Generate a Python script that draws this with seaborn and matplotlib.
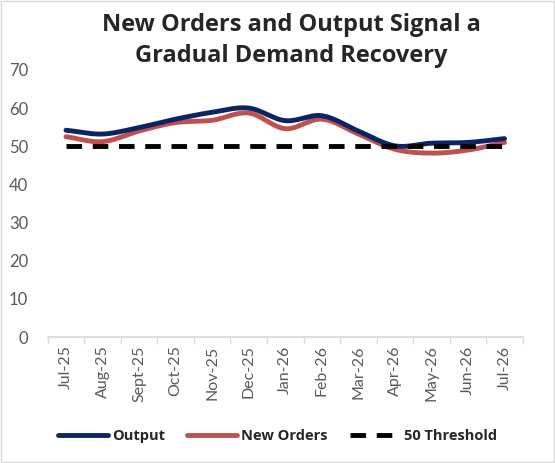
import numpy as np
import pandas as pd
import matplotlib
matplotlib.use("Agg")
import matplotlib.pyplot as plt
import seaborn as sns

months = ["Jul-25", "Aug-25", "Sept-25", "Oct-25", "Nov-25", "Dec-25", "Jan-26",
          "Feb-26", "Mar-26", "Apr-26", "May-26", "Jun-26", "Jul-26"]
output = [54.2, 53.2, 54.9, 57.1, 58.9, 60.0, 56.7, 58.0, 54.0, 50.1, 50.8, 51.0, 52.0]
new_orders = [52.5, 51.2, 54.0, 56.2, 56.8, 58.7, 54.6, 57.1, 53.2, 49.2, 48.2, 49.0, 51.0]
threshold = [50] * len(months)

sns.set_theme(style="white")
plt.rcParams['font.family'] = ['Lato', 'DejaVu Sans']


def smooth(y, n=20):
    # Catmull-Rom spline, like Excel's smoothed line
    y = np.asarray(y, dtype=float)
    p = np.concatenate([[2 * y[0] - y[1]], y, [2 * y[-1] - y[-2]]])
    xs, ys = [], []
    for i in range(len(y) - 1):
        t = np.linspace(0, 1, n, endpoint=False)
        p0, p1, p2, p3 = p[i], p[i + 1], p[i + 2], p[i + 3]
        v = 0.5 * ((2 * p1) + (-p0 + p2) * t + (2 * p0 - 5 * p1 + 4 * p2 - p3) * t ** 2
                   + (-p0 + 3 * p1 - 3 * p2 + p3) * t ** 3)
        xs.append(i + t)
        ys.append(v)
    xs.append([len(y) - 1])
    ys.append([y[-1]])
    return np.concatenate(xs), np.concatenate(ys)


fig = plt.figure(figsize=(5.55, 4.63), dpi=100)
ax = fig.add_axes([0.086, 0.272, 0.856, 0.577])

xo, yo = smooth(output)
xn, yn = smooth(new_orders)
sns.lineplot(x=xn, y=yn, ax=ax, color="#C0504D", lw=3.5, label="New Orders", zorder=2)
sns.lineplot(x=xo, y=yo, ax=ax, color="#0B2562", lw=3.5, label="Output", zorder=3)
sns.lineplot(x=np.arange(len(months)), y=threshold, ax=ax, color="black", lw=3.5,
             linestyle=(0, (3.2, 2.2)), label="50 Threshold", zorder=4)

ax.set_xlim(-0.5, len(months) - 0.5)
ax.set_ylim(0, 70)
ax.set_yticks(range(0, 71, 10))
ax.set_xticks(range(len(months)))
ax.set_xticklabels(months, rotation=90)
ax.set_xticks(np.arange(-0.5, len(months), 1), minor=True)
ax.tick_params(axis="x", which="major", length=0, labelsize=11.5, colors="#595959", pad=6)
ax.tick_params(axis="x", which="minor", length=5, color="#D9D9D9", width=1, direction="out", bottom=True)
ax.tick_params(axis="y", length=0, labelsize=12, colors="#595959", pad=14)
for s in ["top", "right", "left"]:
    ax.spines[s].set_visible(False)
ax.spines["bottom"].set_color("#D9D9D9")
ax.set_xlabel("")
ax.set_ylabel("")

handles, labels = ax.get_legend_handles_labels()
order = [labels.index("Output"), labels.index("New Orders"), labels.index("50 Threshold")]
ax.legend([handles[i] for i in order], [labels[i] for i in order], loc="center",
          bbox_to_anchor=(0.5, 0.058), bbox_transform=fig.transFigure, ncol=3,
          frameon=False, prop={"family": "Open Sans", "weight": "bold", "size": 10.5},
          handlelength=3.4, columnspacing=1.5, handletextpad=0.3)

fig.text(0.525, 0.972, "New Orders and Output Signal a\nGradual Demand Recovery",
         ha="center", va="top", fontsize=17, fontweight="bold", family="Open Sans",
         linespacing=1.38)

fig.patches.append(plt.Rectangle((0.002, 0.002), 0.996, 0.996, transform=fig.transFigure,
                                 fill=False, edgecolor="#D9D9D9", lw=1))

fig.savefig("out.png", dpi=100)
